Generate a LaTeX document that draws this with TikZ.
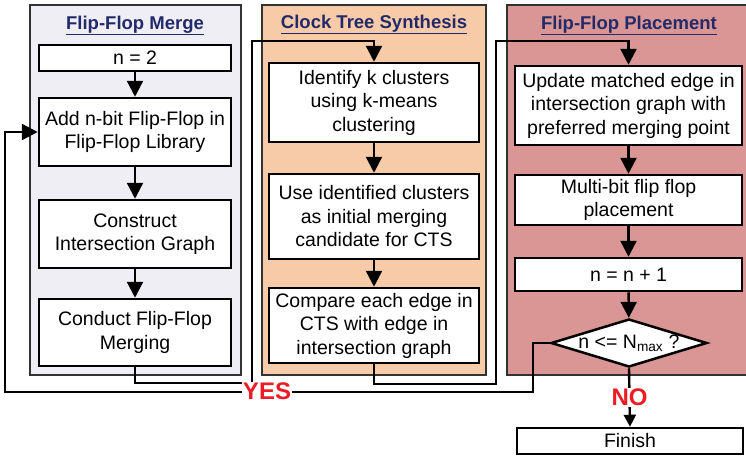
\documentclass[tikz,border=0pt]{standalone}
\usepackage{fontspec}
\setmainfont{Liberation Sans}
\usetikzlibrary{arrows.meta,shapes.geometric}
\definecolor{titleblue}{RGB}{35,42,105}
\definecolor{yesred}{RGB}{237,28,36}
\definecolor{pone}{RGB}{239,238,245}
\definecolor{ptwo}{RGB}{248,203,168}
\definecolor{pthree}{RGB}{217,150,148}
\definecolor{panelgray}{RGB}{50,50,50}
\begin{document}
\begin{tikzpicture}[x=1pt,y=-1pt,
  panel/.style={draw=panelgray,line width=2.5pt},
  box/.style={draw=black,fill=white,line width=2.5pt,align=center,inner sep=0pt,font=\fontsize{19.5}{23.5}\selectfont},
  ttl/.style={font=\fontsize{18.5}{22}\selectfont\bfseries,text=titleblue,anchor=base,inner sep=0pt},
  arr/.style={line width=2.4pt,-{Triangle[width=16pt,length=16pt]}},
  lbl/.style={font=\fontsize{24}{28}\selectfont\bfseries,text=yesred,fill=white,inner sep=1pt}
]
\useasboundingbox (0,0) rectangle (746,458);
\clip (0,0) rectangle (746,458);
% panels
\draw[panel,fill=pone] (30,5) rectangle (241,375);
\draw[panel,fill=ptwo] (262,5) rectangle (486,375);
\draw[panel,fill=pthree] (507,5) rectangle (770,375);
% titles
\node[ttl] (t1) at (135,29) {\underline{Flip-Flop Merge}};
\node[ttl] (t2) at (374,28) {\underline{Clock Tree Synthesis}};
\node[ttl] (t3) at (629,29) {\underline{Flip-Flop Placement}};
% panel 1
\node[box,minimum width=192pt,minimum height=26pt] (n2) at (135,58) {n = 2};
\node[box,minimum width=192pt,minimum height=68pt] (add) at (135,132) {Add n-bit Flip-Flop in\\Flip-Flop Library};
\node[box,minimum width=192pt,minimum height=68pt] (cons) at (135,234) {Construct\\Intersection Graph};
\node[box,minimum width=192pt,minimum height=67pt] (cond) at (135,332.5) {Conduct Flip-Flop\\Merging};
% panel 2
\node[box,minimum width=210pt,minimum height=79pt] (ident) at (374,102.5) {Identify k clusters\\using k-means\\clustering};
\node[box,minimum width=210pt,minimum height=85pt] (use) at (374,216.5) {Use identified clusters\\as initial merging\\candidate for CTS};
\node[box,minimum width=210pt,minimum height=75pt] (comp) at (374,325.5) {Compare each edge in\\CTS with edge in\\intersection graph};
% panel 3
\node[box,minimum width=227pt,minimum height=79pt] (upd) at (628.5,105.5) {Update matched edge in\\intersection graph with\\preferred merging point};
\node[box,minimum width=227pt,minimum height=50pt] (mbit) at (628.5,200) {Multi-bit flip flop\\placement};
\node[box,minimum width=227pt,minimum height=33pt] (inc) at (628.5,274.5) {n = n + 1};
\node[draw=black,fill=white,line width=2.5pt,shape=diamond,minimum width=156pt,minimum height=48pt,inner sep=0pt] (dec) at (629,343) {};
\node[font=\fontsize{19.5}{23.5}\selectfont,inner sep=0pt] (dectxt) at (dec.center) {n <= N\textsubscript{max} ?};
\node[box,minimum width=226pt,minimum height=26pt] (fin) at (630,441) {Finish};
% arrows inside panels
\draw[arr] (n2) -- (add);
\draw[arr] (add) -- (cons);
\draw[arr] (cons) -- (cond);
\draw[arr] (ident) -- (use);
\draw[arr] (use) -- (comp);
\draw[arr] (upd) -- (mbit);
\draw[arr] (mbit) -- (inc);
\draw[arr] (inc) -- (dec);
% connectors between panels
\coordinate (c1a) at (252,383);
\coordinate (c1b) at (252,41);
\draw[arr] (cond.south) |- (c1a) -- (c1b) -| (ident.north);
\coordinate (c2a) at (496,384);
\coordinate (c2b) at (496,41);
\draw[arr] (comp.south) |- (c2a) -- (c2b) -| (upd.north);
\coordinate (c3a) at (533,392);
\coordinate (c3b) at (5,392);
\draw[arr] (dec.west) -| (c3a) -- (c3b) |- (add.west);
\node[lbl] (yes) at (267,391) {YES};
\draw[line width=2.4pt,-{Triangle[width=12pt,length=12pt]}] (dec.south) -- node[lbl] (no) {NO} (fin.north);
\end{tikzpicture}
\end{document}
